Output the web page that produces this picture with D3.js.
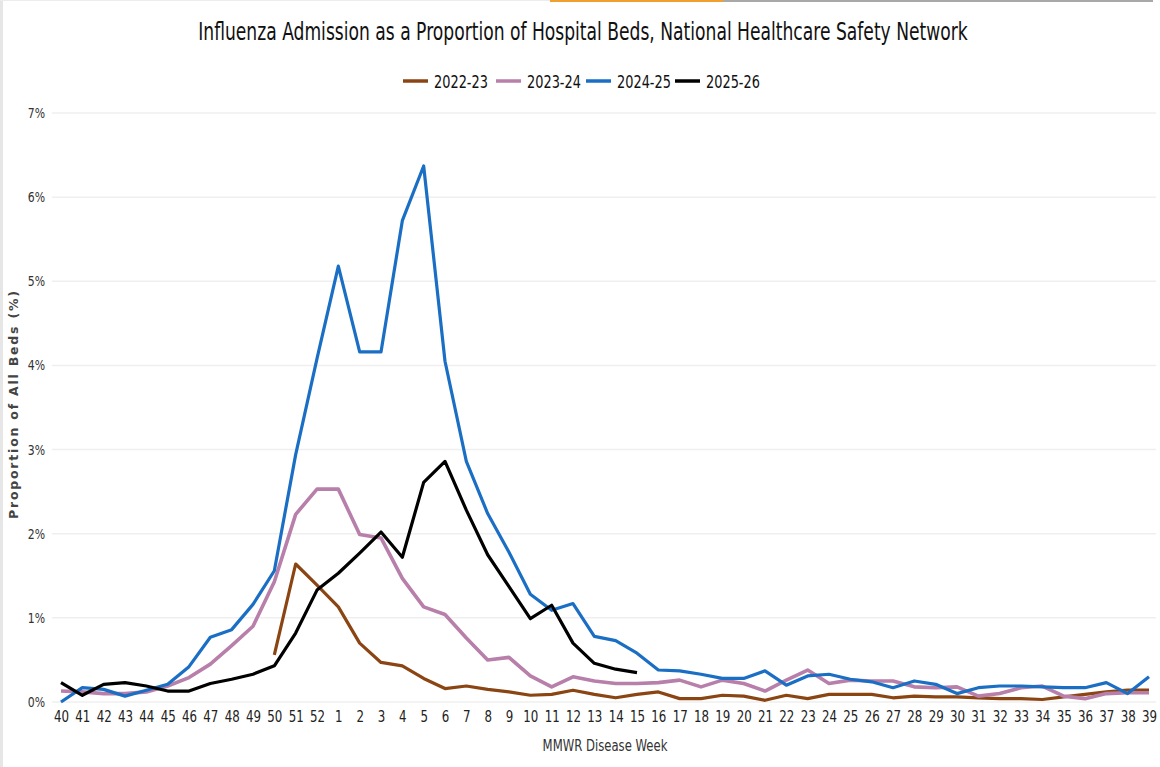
<!DOCTYPE html>
<html>
<head>
<meta charset="utf-8">
<script src="https://cdn.jsdelivr.net/npm/d3@7"></script>
<style>
  html, body { margin: 0; padding: 0; background: #ffffff; }
  svg { display: block; }
</style>
</head>
<body>
<svg id="chart" width="1160" height="767"></svg>
<script>
// MMWR weeks of the season, week 40 through week 39
const weeks = ["40","41","42","43","44","45","46","47","48","49","50","51","52",
  "1","2","3","4","5","6","7","8","9","10","11","12","13","14","15","16","17","18","19",
  "20","21","22","23","24","25","26","27","28","29","30","31","32","33","34","35","36","37","38","39"];

const seasonNames = ["2022-23", "2023-24", "2024-25", "2025-26"];

// Influenza admissions as % of all hospital beds
const s2022_23 = [null,null,null,null,null,null,null,null,null,null,
  0.56,1.64,1.39,1.13,0.70,0.47,0.43,0.28,0.16,0.19,0.15,0.12,0.08,0.09,0.14,0.09,0.05,0.09,0.12,0.04,0.04,0.08,
  0.07,0.02,0.08,0.04,0.09,0.09,0.09,0.05,0.07,0.06,0.06,0.05,0.04,0.04,0.03,0.06,0.09,0.12,0.14,0.14];

const s2023_24 = [0.13,0.12,0.10,0.10,0.12,0.19,0.29,0.45,0.67,0.90,1.43,2.23,2.53,
  2.53,1.99,1.95,1.47,1.13,1.04,0.76,0.50,0.53,0.31,0.18,0.30,0.25,0.22,0.22,0.23,0.26,0.18,0.26,
  0.22,0.13,0.26,0.38,0.22,0.26,0.25,0.25,0.18,0.17,0.18,0.07,0.10,0.17,0.19,0.07,0.04,0.10,0.11,0.11];

const s2024_25 = [0.00,0.17,0.15,0.07,0.14,0.21,0.42,0.77,0.86,1.16,1.56,2.94,4.08,
  5.18,4.16,4.16,5.72,6.37,4.05,2.86,2.24,1.78,1.28,1.09,1.17,0.78,0.73,0.58,0.38,0.37,0.33,0.28,
  0.28,0.37,0.20,0.31,0.33,0.27,0.24,0.17,0.25,0.21,0.10,0.17,0.19,0.19,0.18,0.17,0.17,0.23,0.10,0.30];

const s2025_26 = [0.23,0.08,0.21,0.23,0.19,0.13,0.13,0.22,0.27,0.33,0.43,0.82,1.33,
  1.53,1.77,2.02,1.72,2.61,2.86,2.28,1.75,1.37,0.99,1.15,0.70,0.46,0.39,0.35,
  null,null,null,null,null,null,null,null,null,null,null,null,null,null,null,null,null,null,null,null,null,null,null,null];

const yTicks = [0, 1, 2, 3, 4, 5, 6, 7];

const seasonColors = ["#8b4513", "#b77fa9", "#1a6fc4", "#000000"];
const seriesValues = [s2022_23, s2023_24, s2024_25, s2025_26];

const svg = d3.select("#chart");
const baseFont = "'DejaVu Sans', 'Open Sans', sans-serif";

// Narrow a text horizontally (about its own x anchor) by a fixed factor
function squeeze(sel, factor) {
  sel.each(function () {
    const t = d3.select(this);
    const ax = +(t.attr("x") || 0);
    t.attr("transform", `translate(${ax},0) scale(${factor},1) translate(${-ax},0)`);
  });
  return sel;
}
// Narrow a text so that it spans the given width
function squeezeTo(sel, width) {
  const w = sel.node().getComputedTextLength();
  return squeeze(sel, w > 0 ? width / w : 1);
}

// Window frame decorations
svg.append("rect").attr("x", 0).attr("y", 0).attr("width", 3).attr("height", 767).attr("fill", "#e6e6e6");
svg.append("rect").attr("x", 0).attr("y", 0).attr("width", 550).attr("height", 1).attr("fill", "#ececec");
svg.append("rect").attr("x", 550).attr("y", 0).attr("width", 173).attr("height", 2).attr("fill", "#f0a030");
svg.append("rect").attr("x", 723).attr("y", 0).attr("width", 430).attr("height", 2).attr("fill", "#a8a8a8");

const x = d3.scalePoint().domain(weeks).range([61, 1149]);
const y = d3.scaleLinear().domain([0, 7]).range([702, 113]);

// Horizontal gridlines
svg.append("g")
  .selectAll("line")
  .data(yTicks)
  .join("line")
  .attr("x1", 52).attr("x2", 1156)
  .attr("y1", d => y(d)).attr("y2", d => y(d))
  .attr("stroke", "#efefef").attr("stroke-width", 1.5);

// Y axis labels
const yAxis = svg.append("g")
  .attr("transform", "translate(45,0)")
  .call(d3.axisLeft(y).tickValues(yTicks).tickFormat(d => d + "%").tickSize(0).tickPadding(0));
yAxis.select(".domain").remove();
squeeze(yAxis.selectAll("text")
  .attr("font-family", baseFont)
  .attr("font-size", 14)
  .attr("fill", "#333"), 0.78);

// X axis labels
const xAxis = svg.append("g")
  .attr("transform", "translate(0,709)")
  .call(d3.axisBottom(x).tickSize(0).tickPadding(2));
xAxis.select(".domain").remove();
squeeze(xAxis.selectAll("text")
  .attr("font-family", baseFont)
  .attr("font-size", 16)
  .attr("fill", "#222"), 0.74);

// Series lines
const line = d3.line()
  .defined(d => d.v != null)
  .x(d => x(d.w))
  .y(d => y(d.v));

seriesValues.forEach((vals, i) => {
  svg.append("path")
    .datum(weeks.map((w, j) => ({ w: w, v: vals[j] })))
    .attr("fill", "none")
    .attr("stroke", seasonColors[i])
    .attr("stroke-width", i === 1 ? 3.6 : 3.2)
    .attr("stroke-linejoin", "round")
    .attr("d", line);
});

// Title
squeezeTo(svg.append("text")
  .attr("x", 583).attr("y", 40)
  .attr("text-anchor", "middle")
  .attr("font-family", baseFont)
  .attr("font-size", 25)
  .attr("fill", "#111")
  .text("Influenza Admission as a Proportion of Hospital Beds, National Healthcare Safety Network"), 770);

// Legend
const legendX = [403, 496, 586, 675];
const legend = svg.append("g");
seasonNames.forEach((name, i) => {
  const g = legend.append("g").attr("transform", `translate(${legendX[i]},81)`);
  g.append("line").attr("x1", 0).attr("x2", 25).attr("y1", 0).attr("y2", 0)
    .attr("stroke", seasonColors[i]).attr("stroke-width", 3.5);
  squeezeTo(g.append("text").attr("x", 31).attr("y", 6.5)
    .attr("font-family", baseFont).attr("font-size", 17.5).attr("fill", "#111")
    .text(name), 54);
});

// Axis titles
svg.append("text")
  .attr("transform", "translate(18,405) rotate(-90)")
  .attr("text-anchor", "middle")
  .attr("font-family", baseFont)
  .attr("font-size", 12.5)
  .attr("font-weight", 600)
  .attr("fill", "#444")
  .attr("textLength", 228)
  .attr("lengthAdjust", "spacing")
  .text("Proportion of All Beds (%)");

squeezeTo(svg.append("text")
  .attr("x", 605).attr("y", 751)
  .attr("text-anchor", "middle")
  .attr("font-family", baseFont)
  .attr("font-size", 16.5)
  .attr("fill", "#333")
  .text("MMWR Disease Week"), 125);
</script>
</body>
</html>
